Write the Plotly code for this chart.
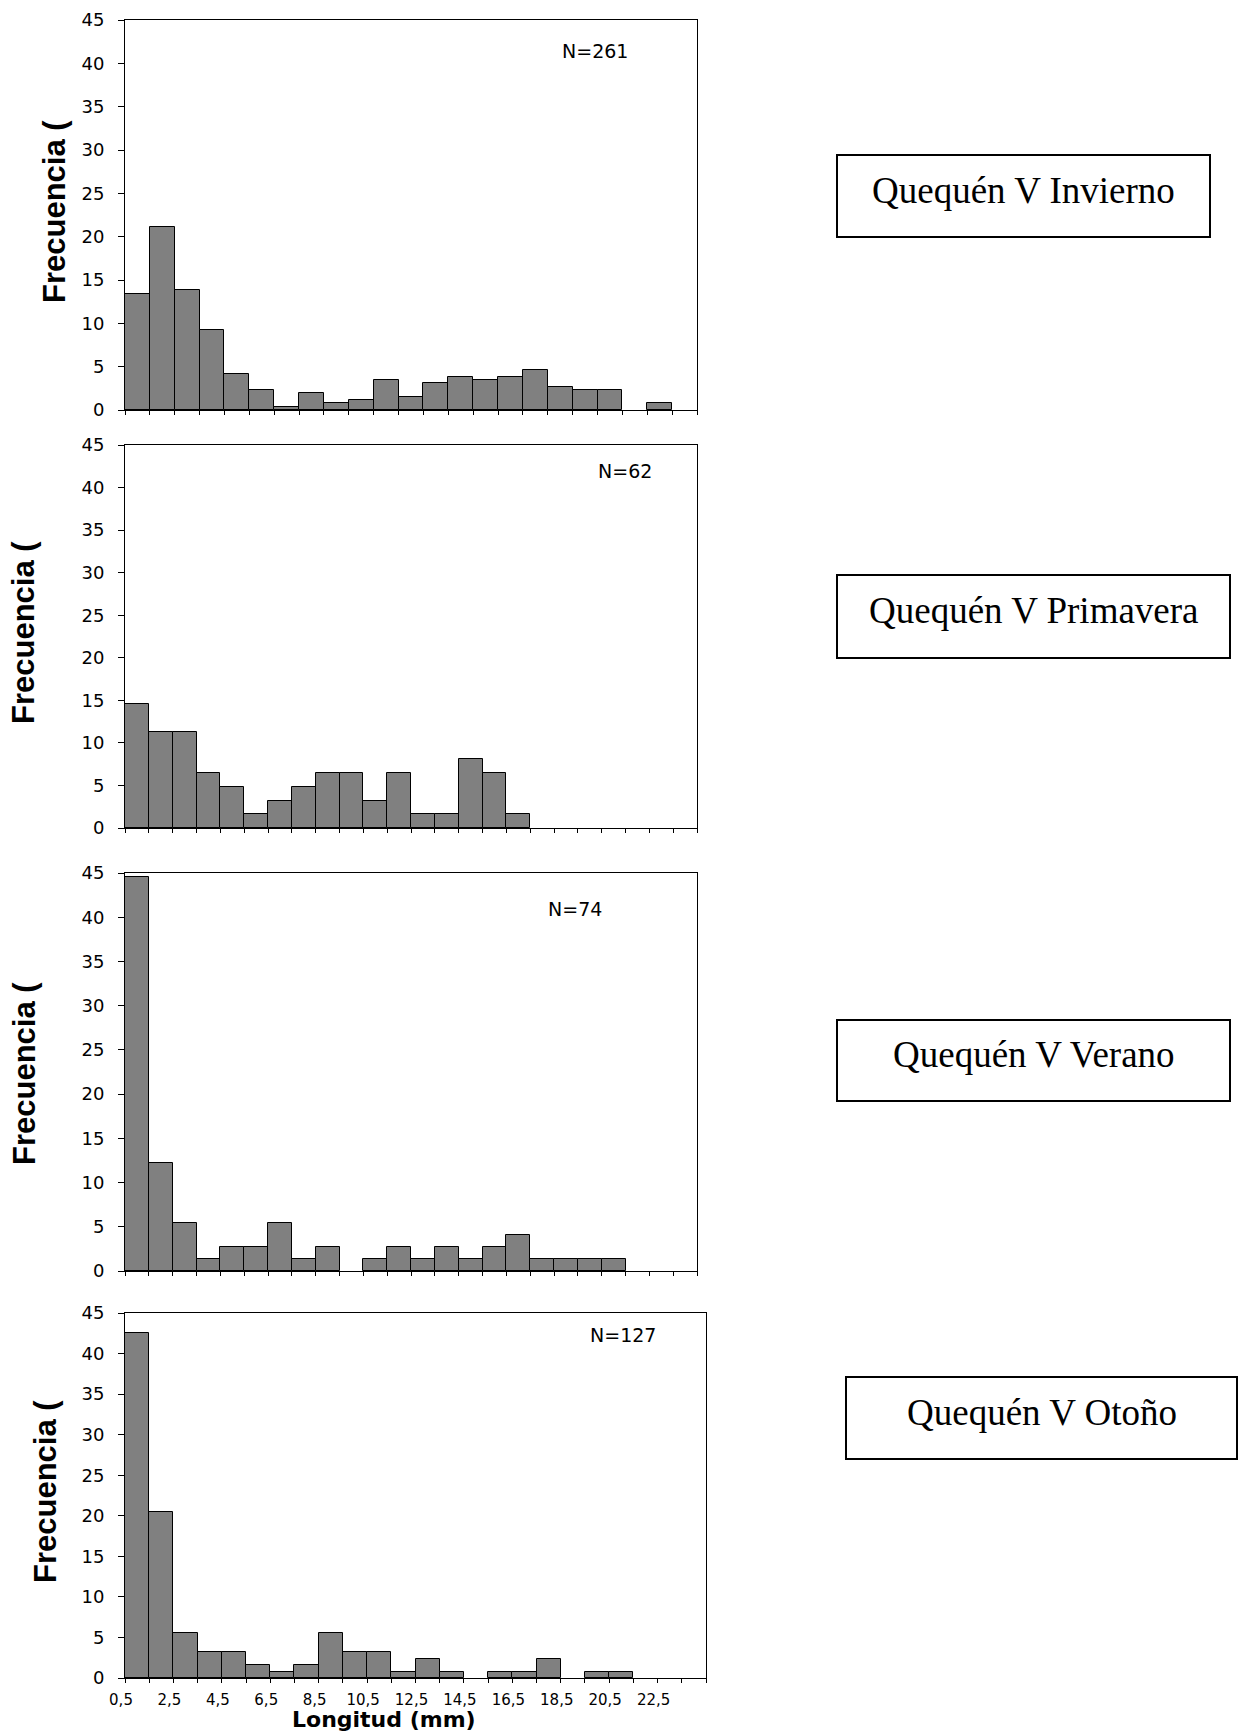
import plotly.graph_objects as go

# Length classes (lower bin edge, mm); each class is 1 mm wide
bin_start_mm = [0.5, 1.5, 2.5, 3.5, 4.5, 5.5, 6.5, 7.5, 8.5, 9.5, 10.5, 11.5,
                12.5, 13.5, 14.5, 15.5, 16.5, 17.5, 18.5, 19.5, 20.5, 21.5, 22.5, 23.5]
tick_labels = ["0,5", "2,5", "4,5", "6,5", "8,5", "10,5", "12,5", "14,5",
               "16,5", "18,5", "20,5", "22,5"]

# Relative frequency (%) per length class, one list per season
invierno = [13.41, 21.07, 13.79, 9.20, 4.21, 2.30, 0.38, 1.92, 0.77, 1.15, 3.45, 1.53,
            3.07, 3.83, 3.45, 3.83, 4.60, 2.68, 2.30, 2.30, 0.00, 0.77, 0.00]
primavera = [14.52, 11.29, 11.29, 6.45, 4.84, 1.61, 3.23, 4.84, 6.45, 6.45, 3.23, 6.45,
             1.61, 1.61, 8.06, 6.45, 1.61, 0, 0, 0, 0, 0, 0, 0]
verano = [44.59, 12.16, 5.41, 1.35, 2.70, 2.70, 5.41, 1.35, 2.70, 0.00, 1.35, 2.70,
          1.35, 2.70, 1.35, 2.70, 4.05, 1.35, 1.35, 1.35, 1.35, 0, 0, 0]
otono = [42.52, 20.47, 5.51, 3.15, 3.15, 1.57, 0.79, 1.57, 5.51, 3.15, 3.15, 0.79,
         2.36, 0.79, 0.00, 0.79, 0.79, 2.36, 0.00, 0.79, 0.79, 0, 0, 0]

sample_sizes = ["N=261", "N=62", "N=74", "N=127"]
season_titles = ["Quequén V Invierno", "Quequén V Primavera",
                 "Quequén V Verano", "Quequén V Otoño"]

W, H = 1239, 1735


def px(x):
    return x / W


def py(y):
    return 1 - y / H


# Panel frames in pixels: (left, right, top, bottom)
panels = [
    (125, 697, 20, 410),
    (125, 697, 445, 828),
    (125, 697, 873, 1271),
    (125, 706, 1313, 1678),
]
series = [invierno, primavera, verano, otono]
n_pos = [(595, 51), (625, 471), (575, 909), (623, 1335)]
ytitle_pos = [(54, 211), (24, 633), (24, 1074), (45, 1492)]
boxes = [(837, 1210, 155, 237), (837, 1230, 575, 658),
         (837, 1230, 1020, 1101), (846, 1237, 1377, 1459)]

fig = go.Figure()
annotations = []
shapes = []

for i, (vals, (l, r, t, b)) in enumerate(zip(series, panels)):
    k = i + 1
    xa = "x" if k == 1 else f"x{k}"
    ya = "y" if k == 1 else f"y{k}"
    nb = len(vals)
    starts = bin_start_mm[:nb]
    # empty classes get no bar at all
    centers = [s + 0.5 for s, v in zip(starts, vals) if v > 0]
    heights = [v for v in vals if v > 0]
    fig.add_trace(go.Bar(
        x=centers, y=heights, width=1.0, xaxis=xa, yaxis=ya,
        marker=dict(color="#808080", line=dict(color="#000000", width=1)),
        showlegend=False, hoverinfo="skip",
    ))
    edges = starts + [starts[-1] + 1]
    last = (i == 3)
    xaxis = dict(
        domain=[px(l), px(r)], anchor=ya,
        range=[edges[0], edges[-1]],
        showline=True, linecolor="#000000", linewidth=1, mirror=True,
        showgrid=False, zeroline=False,
        ticks="outside", ticklen=4, tickcolor="#000000", tickwidth=1,
        tickmode="array", tickvals=edges,
        ticktext=[(tick_labels[j // 2] if (j % 2 == 0 and j // 2 < len(tick_labels)) else "")
                  for j in range(len(edges))] if last else [""] * len(edges),
        showticklabels=last,
        tickfont=dict(family="DejaVu Sans", size=15, color="#000000"),
        ticklabelstandoff=4, ticklabelshift=-4,
    )
    yaxis = dict(
        domain=[py(b), py(t)], anchor=xa,
        range=[0, 45],
        showline=True, linecolor="#000000", linewidth=1, mirror=True,
        showgrid=False, zeroline=False,
        ticks="outside", ticklen=6, tickcolor="#000000", tickwidth=1,
        tickmode="array", tickvals=list(range(0, 46, 5)),
        tickfont=dict(family="DejaVu Sans", size=18, color="#000000"),
        ticklabelstandoff=10,
    )
    fig.update_layout(**{("xaxis" if k == 1 else f"xaxis{k}"): xaxis,
                         ("yaxis" if k == 1 else f"yaxis{k}"): yaxis})

    nx, ny = n_pos[i]
    annotations.append(dict(
        x=px(nx), y=py(ny), xref="paper", yref="paper", text=sample_sizes[i],
        showarrow=False, xanchor="center", yanchor="middle",
        font=dict(family="DejaVu Sans", size=19, color="#000000"),
    ))
    tx, ty = ytitle_pos[i]
    annotations.append(dict(
        x=px(tx), y=py(ty), xref="paper", yref="paper", text="<b>Frecuencia (</b>",
        showarrow=False, xanchor="center", yanchor="middle", textangle=-90,
        font=dict(family="Liberation Sans", size=31, color="#000000"),
    ))
    bl, br, bt, bb = boxes[i]
    shapes.append(dict(
        type="rect", xref="paper", yref="paper",
        x0=px(bl), x1=px(br), y0=py(bb), y1=py(bt),
        line=dict(color="#000000", width=2), fillcolor="rgba(0,0,0,0)",
    ))
    annotations.append(dict(
        x=px((bl + br) / 2), y=py((bt + bb) / 2 - 6), xref="paper", yref="paper",
        text=season_titles[i], showarrow=False, xanchor="center", yanchor="middle",
        font=dict(family="Liberation Serif", size=37, color="#000000"),
    ))

annotations.append(dict(
    x=px(384), y=py(1719), xref="paper", yref="paper", text="<b>Longitud (mm)</b>",
    showarrow=False, xanchor="center", yanchor="middle",
    font=dict(family="DejaVu Sans", size=22, color="#000000"),
))

fig.update_layout(
    width=W, height=H, margin=dict(l=0, r=0, t=0, b=0, autoexpand=False),
    paper_bgcolor="#ffffff", plot_bgcolor="#ffffff",
    bargap=0, annotations=annotations, shapes=shapes,
)

fig.write_html("out.html")
